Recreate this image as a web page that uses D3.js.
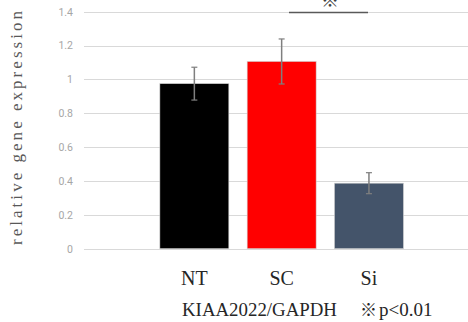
<!DOCTYPE html>
<html>
<head>
<meta charset="utf-8">
<script src="https://cdn.jsdelivr.net/npm/d3@7"></script>
<style>
  body { margin: 0; background: white; }
</style>
</head>
<body>
<div id="container"></div>
<script>
let w = 468;
let h = 322;

// data
let groups = ["NT", "SC", "Si"];
let values = [0.975, 1.106, 0.387];
let errors = [0.097, 0.133, 0.062];
let barColors = ["#000000", "#ff0000", "#44546a"];
let yTicks = [0, 0.2, 0.4, 0.6, 0.8, 1, 1.2, 1.4];

let serifFont = "'Liberation Serif', 'DejaVu Serif', serif";

let viz = d3.select("#container")
  .append("svg")
  .attr("width", w)
  .attr("height", h)
  .style("background-color", "white");

let xScale = d3.scaleBand().domain(groups).range([150.7, 412.6])
  .paddingInner(0.21).paddingOuter(0.105);
let yScale = d3.scaleLinear().domain([0, 1.4]).range([248.7, 11.7]);

// gridlines
viz.selectAll(".grid").data(yTicks).enter()
  .append("line")
  .attr("x1", 84)
  .attr("x2", w)
  .attr("y1", d => Math.round(yScale(d)) + 0.5)
  .attr("y2", d => Math.round(yScale(d)) + 0.5)
  .attr("stroke", "#d9d9d9")
  .attr("stroke-width", 1);

// y axis tick labels
let yAxis = d3.axisLeft(yScale).tickValues(yTicks).tickSize(0).tickPadding(0)
  .tickFormat(d => d3.format("~g")(d));
let yAxisGroup = viz.append("g")
  .attr("transform", "translate(73,0)")
  .call(yAxis);
yAxisGroup.select(".domain").remove();
yAxisGroup.selectAll("text")
  .attr("fill", "#a6a6a6")
  .attr("font-family", "Roboto, sans-serif")
  .attr("font-size", "10.5px");

// bars
viz.selectAll(".bar").data(groups).enter()
  .append("rect")
  .attr("x", d => xScale(d))
  .attr("y", (d, i) => yScale(values[i]))
  .attr("width", xScale.bandwidth())
  .attr("height", (d, i) => yScale(0) - yScale(values[i]))
  .attr("fill", (d, i) => barColors[i])
  .attr("stroke", "#d0d0d0")
  .attr("stroke-width", 0.6);

// error bars
let errGroup = viz.append("g");
groups.forEach((g, i) => {
  let cx = xScale(g) + xScale.bandwidth() / 2;
  let top = yScale(values[i] + errors[i]);
  let bottom = yScale(values[i] - errors[i]);
  errGroup.append("line")
    .attr("x1", cx).attr("x2", cx).attr("y1", top).attr("y2", bottom)
    .attr("stroke", "#7f7f7f").attr("stroke-width", 1.5);
  [top, bottom].forEach(y => {
    errGroup.append("line")
      .attr("x1", cx - 3).attr("x2", cx + 3).attr("y1", y).attr("y2", y)
      .attr("stroke", "#7f7f7f").attr("stroke-width", 1.2);
  });
});

// significance bracket
viz.append("line")
  .attr("x1", 289).attr("x2", 368)
  .attr("y1", 12.5).attr("y2", 12.5)
  .attr("stroke", "#595959").attr("stroke-width", 1.6);
viz.append("text")
  .text("※")
  .attr("x", 330)
  .attr("y", 7)
  .attr("text-anchor", "middle")
  .attr("font-family", "'Noto Sans CJK JP', sans-serif")
  .attr("font-size", "18px")
  .attr("fill", "#404040");

// category labels
viz.selectAll(".cat").data(groups).enter()
  .append("text")
  .text(d => d)
  .attr("x", d => xScale(d) + xScale.bandwidth() / 2)
  .attr("y", 285)
  .attr("text-anchor", "middle")
  .attr("font-family", serifFont)
  .attr("font-size", "20px")
  .attr("fill", "#262626");

// bottom caption
viz.append("text")
  .text("KIAA2022/GAPDH")
  .attr("x", 182)
  .attr("y", 316)
  .attr("font-family", serifFont)
  .attr("font-size", "19px")
  .attr("textLength", 155)
  .attr("lengthAdjust", "spacingAndGlyphs")
  .attr("fill", "#262626");
let note = viz.append("text")
  .attr("x", 360)
  .attr("y", 316)
  .attr("font-family", serifFont)
  .attr("font-size", "19px")
  .attr("fill", "#262626");
note.append("tspan").text("※").attr("font-family", "'Noto Sans CJK JP', sans-serif").attr("font-size", "17px");
note.append("tspan").text("p<0.01").attr("dx", 2);

// y axis title
viz.append("text")
  .text("relative gene expression")
  .attr("transform", "translate(22,128) rotate(-90)")
  .attr("text-anchor", "middle")
  .attr("font-family", serifFont)
  .attr("font-size", "17px")
  .attr("textLength", 234)
  .attr("fill", "#595959");
</script>
</body>
</html>
